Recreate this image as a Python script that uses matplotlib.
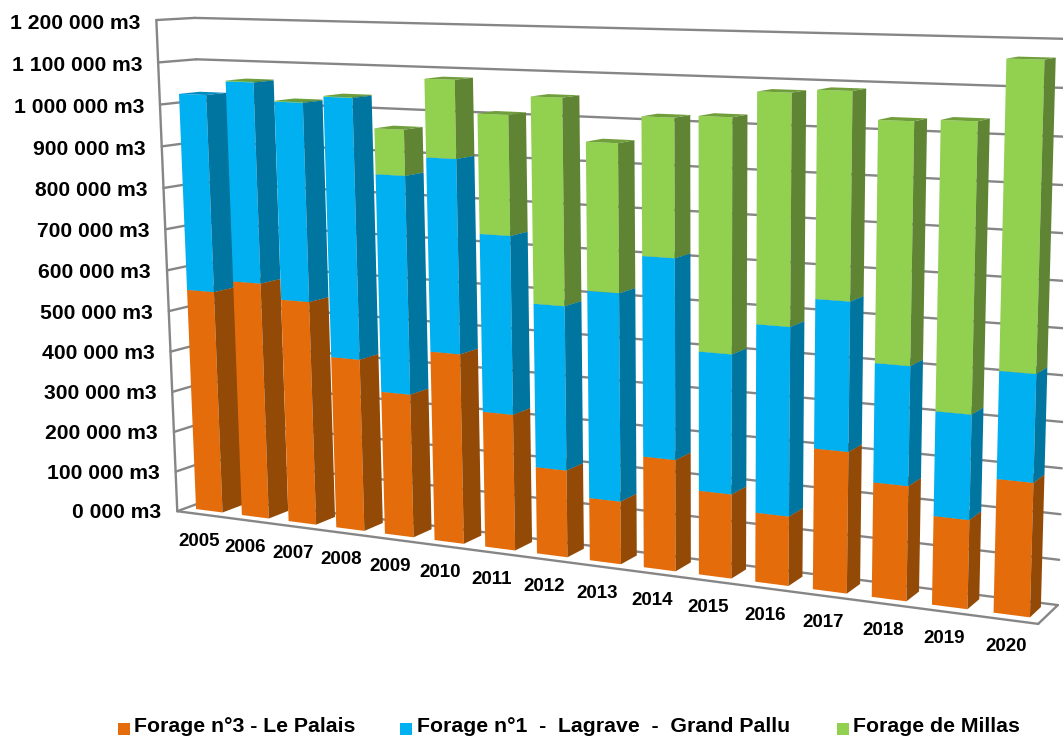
import matplotlib
matplotlib.use("Agg")
import matplotlib.pyplot as plt
import numpy as np

plt.rcParams['font.family'] = ['Liberation Sans', 'DejaVu Sans']

years = list(range(2005, 2021))
# volumes in thousands of m3
palais = [549, 579, 544, 416, 344, 451, 321, 204, 146, 256, 192, 157, 315, 254, 195, 290]
lagrave = [475, 479, 471, 615, 513, 451, 413, 379, 476, 453, 314, 420, 327, 260, 227, 230]
millas = [0, 2, 2, 2, 106, 179, 273, 467, 333, 307, 516, 502, 445, 515, 612, 643]
y_ticks = list(range(0, 1300, 100))
y_labels = ['0 000 m3'] + [f'{v} 000 m3' for v in range(100, 1000, 100)] + \
           ['1 000 000 m3', '1 100 000 m3', '1 200 000 m3']

series = [
    ('Forage n°3 - Le Palais', palais, '#E46C0A', '#934A07', '#B85808'),
    ('Forage n°1  -  Lagrave  -  Grand Pallu', lagrave, '#00B0F0', '#0075A0', '#008CC0'),
    ('Forage de Millas', millas, '#92D050', '#5F8434', '#6F9E3A'),
]

# camera fitted on the corners of the chart box: (category, depth, volume) -> pixel
box = np.array([(0, 0, 0), (16, 0, 0), (16, 1, 0), (0, 1, 0), (0, 0, 1200), (0, 1, 1200), (16, 1, 1200)], float)
pix = np.array([(175, 511), (1039, 623), (1057, 606), (216, 498), (158, 21), (193, 17), (1074, 39)], float)
rows = []
for (a, b, c), (u, v) in zip(box, pix):
    rows.append([a, b, c, 1, 0, 0, 0, 0, -u * a, -u * b, -u * c, -u])
    rows.append([0, 0, 0, 0, a, b, c, 1, -v * a, -v * b, -v * c, -v])
P = np.linalg.svd(np.array(rows))[2][-1].reshape(3, 4)


def project(x, d, z):
    u, v, w = P @ np.array([x, d, z, 1.0])
    return u / w, v / w


fig = plt.figure(figsize=(10.63, 7.38), dpi=100)
ax = fig.add_axes([0, 0, 1, 1])
ax.set_xlim(0, 1063)
ax.set_ylim(738, 0)
ax.axis('off')

GRID = '#868686'


def line(p, q, lw=1.7):
    ax.plot([p[0], q[0]], [p[1], q[1]], color=GRID, lw=lw, solid_capstyle='round', zorder=1)


# walls
for z in y_ticks:
    line(project(0, 0, z), project(0, 1, z))
    line(project(0, 1, z), project(16, 1, z))
line(project(0, 0, 0), project(0, 0, 1200))
line(project(0, 0, 0), project(16, 0, 0))
line(project(16, 0, 0), project(16, 1, 0))

# bars, far side first
x0, x1, d0, d1 = 0.21, 0.79, 0.25, 0.8
for i in range(len(years)):
    base = 0
    for name, values, front, side, top in series:
        h = base + values[i]
        if values[i] > 0:
            ax.fill(*zip(project(i + x0, d0, base), project(i + x1, d0, base),
                         project(i + x1, d0, h), project(i + x0, d0, h)), color=front, lw=0, zorder=2)
            ax.fill(*zip(project(i + x1, d0, base), project(i + x1, d1, base),
                         project(i + x1, d1, h), project(i + x1, d0, h)), color=side, lw=0, zorder=2)
            ax.fill(*zip(project(i + x0, d0, h), project(i + x1, d0, h),
                         project(i + x1, d1, h), project(i + x0, d1, h)), color=top, lw=0, zorder=2)
        base = h

# labels
for z, lab in zip(y_ticks, y_labels):
    u, v = project(0, 0, z)
    ax.text(u - 16, v + 1.5 + z / 600, lab, ha='right', va='center', fontsize=15.2, fontweight='bold', color='black')
for i, yr in enumerate(years):
    u, v = project(i + 0.5, 0, 0)
    ax.text(u - 1 + 0.07 * i, v + 27, str(yr), ha='center', va='center', fontsize=13.5, fontweight='bold', color='black')

# legend
for (name, values, front, side, top), xs, xt in zip(series, (118, 400, 837), (134, 417, 853)):
    ax.add_patch(plt.Rectangle((xs, 723), 12, 12, color=front, lw=0))
    ax.text(xt, 732.5, name, ha='left', va='baseline', fontsize=15.3, fontweight='bold', color='black')

fig.savefig('out.png', dpi=100)
